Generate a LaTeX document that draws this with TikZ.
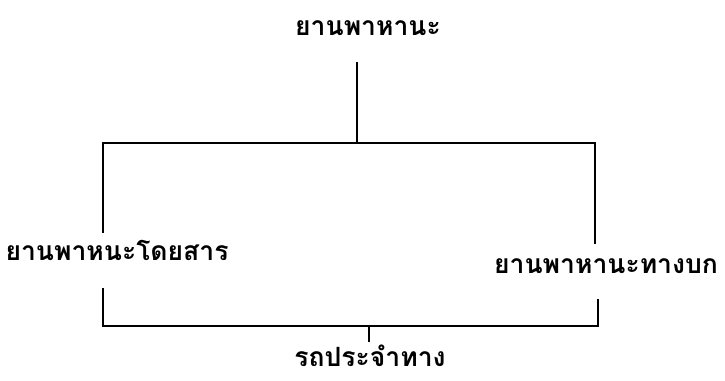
\documentclass[tikz,border=0pt]{standalone}
\usepackage{fontspec}
\usepackage{tikz}
\usetikzlibrary{positioning, calc}
\newfontfamily\thaifont[Script=Thai]{Loma}
\tikzset{
  % Thai labels
  thlabel/.style={font=\thaifont\bfseries\fontsize{26.5}{30}\selectfont,
                  inner sep=0pt, anchor=center},
  % bracket lines
  tline/.style={draw=black, line width=1.3pt},
}

\begin{document}
\begin{tikzpicture}[x=1pt, y=-1pt]
\useasboundingbox (0,0) rectangle (725,380);

% ── Labels ───────────────────────────────────────────────────────────────────
\node[thlabel] (vehicle) at (368, 28)  {ยานพาหานะ};
\node[thlabel] (pax)     at (117, 250) {ยานพาหนะโดยสาร};
\node[thlabel] (land)    at (606, 266) {ยานพาหานะทางบก};
\node[thlabel] (bus)     at (370, 356) {รถประจำทาง};

% ── Bracket corners ──────────────────────────────────────────────────────────
\coordinate (topstub) at (357, 62);
\coordinate (topmid)  at (357, 143);
\coordinate (topl)    at (103, 143);
\coordinate (topr)    at (595, 143);
\coordinate (paxend)  at (103, 233);
\coordinate (landend) at (595, 244);

\coordinate (botl)    at (103, 326);
\coordinate (botr)    at (598, 326);
\coordinate (botmid)  at (369, 326);
\coordinate (paxbot)  at (103, 288);
\coordinate (landbot) at (598, 299);
\coordinate (busstub) at (369, 342);

% ── Lines ────────────────────────────────────────────────────────────────────
\draw[tline] (topstub) -- (topmid);
\draw[tline] (paxend) -- (topl) -- (topr) -- (landend);

\draw[tline] (paxbot) -- (botl) -- (botr) -- (landbot);
\draw[tline] (botmid) -- (busstub);

\end{tikzpicture}
\end{document}
